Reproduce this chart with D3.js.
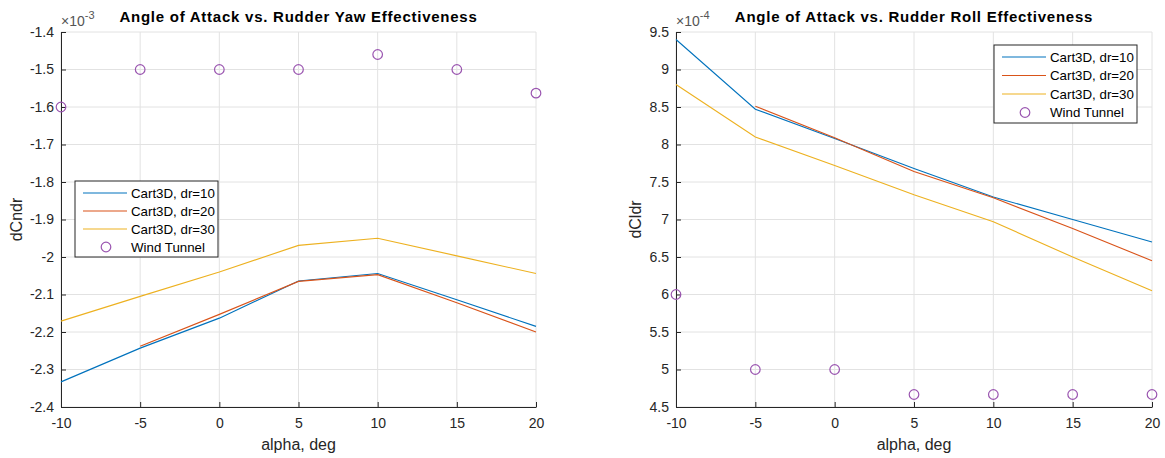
<!DOCTYPE html>
<html>
<head>
<meta charset="utf-8">
<script src="https://cdn.jsdelivr.net/npm/d3@7"></script>
<style>
  html, body { margin: 0; padding: 0; background: #fff; }
  svg { display: block; font-family: "Liberation Sans", Arial, Helvetica, sans-serif; }
</style>
</head>
<body>
<svg id="chart" width="1165" height="458"></svg>
<script>
// Angle of attack, deg
const alpha = [-10, -5, 0, 5, 10, 15, 20];

// Yaw effectiveness dCndr (x 1e-3)
const yawDr10 = [-2.333, -2.243, -2.163, -2.064, -2.044, -2.114, -2.185];
const yawDr20 = [null, -2.238, -2.153, -2.065, -2.047, -2.122, -2.200];
const yawDr30 = [-2.171, -2.105, -2.040, -1.969, -1.950, -1.997, -2.044];
const yawTunnel = [-1.6, -1.5, -1.5, -1.5, -1.46, -1.5, -1.563];

// Roll effectiveness dCldr (x 1e-4)
const rollDr10 = [9.40, 8.47, 8.08, 7.68, 7.30, 7.00, 6.70];
const rollDr20 = [null, 8.51, 8.09, 7.64, 7.29, 6.88, 6.45];
const rollDr30 = [8.80, 8.10, 7.72, 7.33, 6.97, 6.50, 6.05];
const rollTunnel = [6.0, 5.0, 5.0, 4.667, 4.667, 4.667, 4.667];

const xTicks = [-10, -5, 0, 5, 10, 15, 20];
const yawTicks = [-2.4, -2.3, -2.2, -2.1, -2.0, -1.9, -1.8, -1.7, -1.6, -1.5, -1.4];
const rollTicks = [4.5, 5, 5.5, 6, 6.5, 7, 7.5, 8, 8.5, 9, 9.5];

const seriesNames = ["Cart3D, dr=10", "Cart3D, dr=20", "Cart3D, dr=30", "Wind Tunnel"];
const colors = ["#0072BD", "#D95319", "#EDB120", "#7E2F8E"];

const svg = d3.select("#chart");
const plain = d => String(+d.toFixed(1));

function panel(opts) {
  const g = svg.append("g");
  const x = d3.scaleLinear().domain([-10, 20]).range([opts.left, opts.right]);
  const y = d3.scaleLinear().domain(opts.yDomain).range([opts.bottom, opts.top]);

  // grid
  g.append("g").selectAll("line").data(xTicks).join("line")
    .attr("x1", d => x(d)).attr("x2", d => x(d))
    .attr("y1", opts.top).attr("y2", opts.bottom)
    .attr("stroke", "#e2e2e2").attr("stroke-width", 1);
  g.append("g").selectAll("line").data(opts.yTicks).join("line")
    .attr("y1", d => y(d)).attr("y2", d => y(d))
    .attr("x1", opts.left).attr("x2", opts.right)
    .attr("stroke", "#e2e2e2").attr("stroke-width", 1);

  // axes (inward ticks)
  const xAxis = d3.axisBottom(x).tickValues(xTicks).tickSizeInner(-5).tickSizeOuter(0)
    .tickFormat(plain);
  const yAxis = d3.axisLeft(y).tickValues(opts.yTicks).tickSizeInner(-5).tickSizeOuter(0)
    .tickFormat(plain);
  const gx = g.append("g").attr("transform", `translate(0,${opts.bottom})`).call(xAxis);
  const gy = g.append("g").attr("transform", `translate(${opts.left},0)`).call(yAxis);
  [gx, gy].forEach(a => {
    a.select(".domain").attr("stroke", "#262626").attr("stroke-width", 1);
    a.selectAll(".tick line").attr("stroke", "#262626");
    a.selectAll(".tick text").attr("fill", "#262626").attr("font-size", 14)
      .attr("font-family", "Liberation Sans, Arial, sans-serif");
  });
  gx.selectAll(".tick text").attr("y", 8).attr("dy", "0.95em");
  gy.selectAll(".tick text").attr("x", -7);

  // lines
  const line = d3.line().defined(d => d[1] != null).x(d => x(d[0])).y(d => y(d[1]));
  opts.lines.forEach((vals, i) => {
    g.append("path")
      .datum(alpha.map((a, k) => [a, vals[k]]))
      .attr("fill", "none").attr("stroke", colors[i]).attr("stroke-width", 1.1)
      .attr("d", line);
  });

  // wind tunnel markers
  g.append("g").selectAll("circle").data(alpha.map((a, k) => [a, opts.tunnel[k]])).join("circle")
    .attr("cx", d => x(d[0])).attr("cy", d => y(d[1])).attr("r", 4.8)
    .attr("fill", "none").attr("stroke", "#9a55b0").attr("stroke-width", 1.2);

  // title
  g.append("text").attr("x", (opts.left + opts.right) / 2).attr("y", 22)
    .attr("text-anchor", "middle").attr("font-weight", "bold").attr("font-size", 15)
    .attr("letter-spacing", 0.75).attr("fill", "#000").text(opts.title);

  // exponent
  const ex = g.append("text").attr("x", opts.left).attr("y", 26)
    .attr("font-size", 14).attr("fill", "#555");
  ex.append("tspan").text("\u00d710");
  ex.append("tspan").attr("dy", -7).attr("font-size", 11).text(opts.exp);

  // axis labels
  g.append("text").attr("x", (opts.left + opts.right) / 2).attr("y", 450)
    .attr("text-anchor", "middle").attr("font-size", 16).attr("fill", "#262626")
    .text("alpha, deg");
  g.append("text")
    .attr("transform", `translate(${opts.yLabelX},${(opts.top + opts.bottom) / 2}) rotate(-90)`)
    .attr("text-anchor", "middle").attr("font-size", 16).attr("fill", "#262626")
    .text(opts.yLabel);

  // legend
  const L = opts.legend;
  const lg = g.append("g");
  lg.append("rect").attr("x", L.x).attr("y", L.y).attr("width", L.w).attr("height", L.h)
    .attr("fill", "#fff").attr("stroke", "#262626").attr("stroke-width", 1);
  seriesNames.forEach((name, i) => {
    const cy = L.y + 12 + i * L.step;
    if (i < 3) {
      lg.append("line").attr("x1", L.x + 8).attr("x2", L.x + 52)
        .attr("y1", cy).attr("y2", cy).attr("stroke", colors[i]).attr("stroke-width", 1.1);
    } else {
      lg.append("circle").attr("cx", L.x + 31).attr("cy", cy).attr("r", 4.8)
        .attr("fill", "none").attr("stroke", "#9a55b0").attr("stroke-width", 1.2);
    }
    lg.append("text").attr("x", L.x + 56).attr("y", cy).attr("dy", "0.36em")
      .attr("font-size", 13.3).attr("fill", "#000").text(name);
  });
}

panel({
  left: 61, right: 536, top: 32, bottom: 407,
  yDomain: [-2.4, -1.4], yTicks: yawTicks,
  lines: [yawDr10, yawDr20, yawDr30], tunnel: yawTunnel,
  title: "Angle of Attack vs. Rudder Yaw Effectiveness",
  exp: "-3", yLabel: "dCndr", yLabelX: 22,
  legend: { x: 75, y: 181, w: 143, h: 76, step: 18 }
});

panel({
  left: 676, right: 1152, top: 32, bottom: 407,
  yDomain: [4.5, 9.5], yTicks: rollTicks,
  lines: [rollDr10, rollDr20, rollDr30], tunnel: rollTunnel,
  title: "Angle of Attack vs. Rudder Roll Effectiveness",
  exp: "-4", yLabel: "dCldr", yLabelX: 641,
  legend: { x: 994, y: 45, w: 143, h: 78, step: 18.5 }
});
</script>
</body>
</html>
